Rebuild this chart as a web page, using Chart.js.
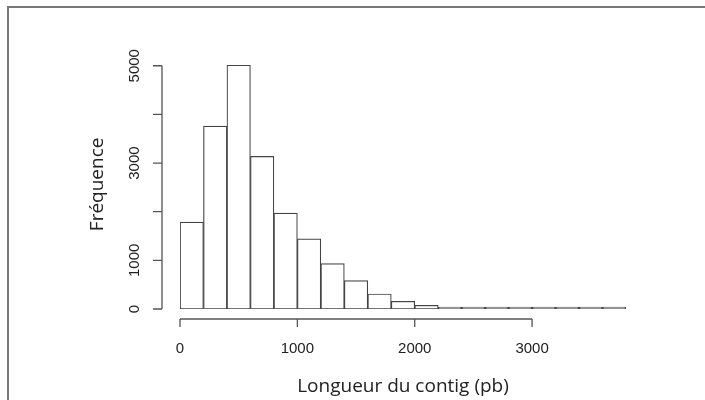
<!DOCTYPE html>
<html>
<head>
<meta charset="utf-8">
<script src="https://cdn.jsdelivr.net/npm/chart.js@4.4.0/dist/chart.umd.min.js"></script>
<style>
  body { margin: 0; background: #fff; }
  #wrap { position: relative; width: 705px; height: 400px; overflow: hidden; }
  #frame {
    position: absolute; left: 7px; top: 6px; width: 720px; height: 420px;
    border-top: 2px solid #777; border-left: 2px solid #777;
  }
  canvas { position: absolute; left: 0; top: 0; }
</style>
</head>
<body>
<div id="wrap">
  <div id="frame"></div>
  <canvas id="hist" width="705" height="400"></canvas>
</div>
<script>
// =========================
// DATA
// =========================

const binStarts = [0, 200, 400, 600, 800, 1000, 1200, 1400, 1600, 1800,
                   2000, 2200, 2400, 2600, 2800, 3000, 3200, 3400, 3600];
const binWidth = 200;

const counts = [1784, 3759, 5010, 3136, 1969, 1440, 934, 584, 309, 158,
                76, 35, 20, 12, 8, 5, 3, 2, 1];

const yTicks = [0, 1000, 2000, 3000, 4000, 5000];
const yTickLabels = ['0', '1000', '', '3000', '', '5000'];

const xTicks = [0, 1000, 2000, 3000];
const xTickLabels = ['0', '1000', '2000', '3000'];

const xTitle = 'Longueur du contig (pb)';
const yTitle = 'Fréquence';

// =========================
// R STYLE AXES
// =========================

const rAxes = {
    id: 'rAxes',
    afterDraw(chart) {
        const ctx = chart.ctx;
        const xs = chart.scales.x;
        const ys = chart.scales.y;
        const area = chart.chartArea;

        ctx.save();
        ctx.strokeStyle = '#555';
        ctx.lineWidth = 1.3;
        ctx.fillStyle = '#222';
        ctx.font = '15px "Liberation Sans", Arial, sans-serif';

        // y axis
        const yAxisX = area.left - 18;
        ctx.beginPath();
        ctx.moveTo(yAxisX, ys.getPixelForValue(yTicks[0]));
        ctx.lineTo(yAxisX, ys.getPixelForValue(yTicks[yTicks.length - 1]));
        yTicks.forEach(v => {
            const py = ys.getPixelForValue(v);
            ctx.moveTo(yAxisX, py);
            ctx.lineTo(yAxisX - 9, py);
        });
        ctx.stroke();

        yTicks.forEach((v, i) => {
            if (!yTickLabels[i]) return;
            const py = ys.getPixelForValue(v);
            ctx.save();
            ctx.translate(yAxisX - 27, py);
            ctx.rotate(-Math.PI / 2);
            ctx.textAlign = 'center';
            ctx.textBaseline = 'middle';
            ctx.fillText(yTickLabels[i], 0, 0);
            ctx.restore();
        });

        // x axis
        const xAxisY = area.bottom + 10;
        ctx.beginPath();
        ctx.moveTo(xs.getPixelForValue(xTicks[0]), xAxisY);
        ctx.lineTo(xs.getPixelForValue(xTicks[xTicks.length - 1]), xAxisY);
        xTicks.forEach(v => {
            const px = xs.getPixelForValue(v);
            ctx.moveTo(px, xAxisY);
            ctx.lineTo(px, xAxisY + 8);
        });
        ctx.stroke();

        ctx.textAlign = 'center';
        ctx.textBaseline = 'middle';
        xTicks.forEach((v, i) => {
            ctx.fillText(xTickLabels[i], xs.getPixelForValue(v), xAxisY + 30);
        });

        // titles
        ctx.font = '19px "Open Sans", sans-serif';
        ctx.fillStyle = '#222';
        ctx.fillText(xTitle, (area.left + area.right) / 2, xAxisY + 68);

        ctx.save();
        ctx.translate(yAxisX - 64, (ys.getPixelForValue(0) + ys.getPixelForValue(5000)) / 2 - 3);
        ctx.rotate(-Math.PI / 2);
        ctx.fillText(yTitle, 0, 0);
        ctx.restore();

        ctx.restore();
    }
};

// =========================
// HISTOGRAM
// =========================

const histCtx =
document.getElementById('hist');

new Chart(histCtx, {

    type: 'bar',

    data: {
        datasets: [{
            data: binStarts.map((s, i) => ({ x: s + binWidth / 2, y: counts[i] })),
            backgroundColor: '#fff',
            borderColor: '#444',
            borderWidth: 1.2,
            borderSkipped: false,
            minBarLength: 2,
            barPercentage: 1,
            categoryPercentage: 1
        }]
    },

    options: {
        responsive: false,
        animation: false,
        layout: {
            padding: { left: 180, right: 79, top: 56, bottom: 91 }
        },
        plugins: {
            legend: { display: false },
            tooltip: { enabled: false }
        },
        scales: {
            x: {
                type: 'linear',
                min: 0,
                max: binStarts[binStarts.length - 1] + binWidth,
                offset: false,
                display: false
            },
            y: {
                min: 0,
                max: 5200,
                display: false
            }
        }
    },

    plugins: [rAxes]

});
</script>
</body>
</html>
